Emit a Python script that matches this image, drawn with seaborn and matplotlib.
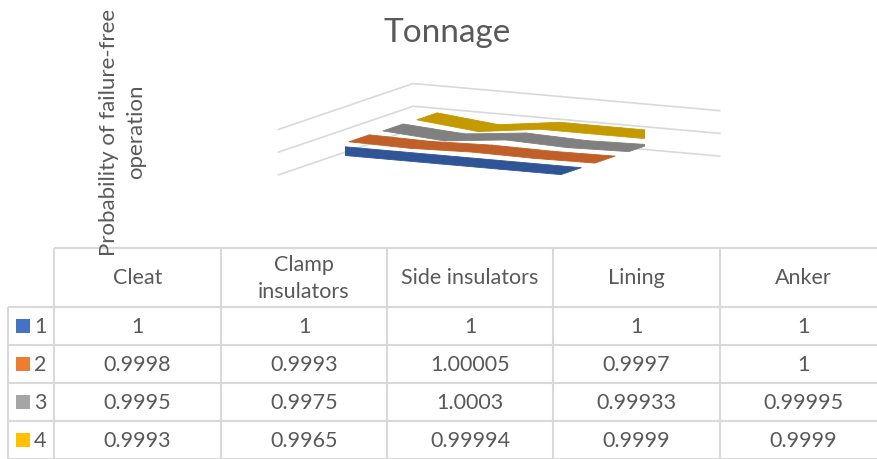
import numpy as np
import pandas as pd
import seaborn as sns
import matplotlib.pyplot as plt
from mpl_toolkits.mplot3d.art3d import Poly3DCollection

categories = ['Cleat', 'Clamp\ninsulators', 'Side insulators', 'Lining', 'Anker']
series_names = ['1', '2', '3', '4']
series_1 = [1, 1, 1, 1, 1]
series_2 = [0.9998, 0.9993, 1.00005, 0.9997, 1]
series_3 = [0.9995, 0.9975, 1.0003, 0.99933, 0.99995]
series_4 = [0.9993, 0.9965, 0.99994, 0.9999, 0.9999]

key_colors = ['#4472C4', '#ED7D31', '#A5A5A5', '#FFC000']
ribbon_colors = ['#2F5597', '#C05F27', '#808080', '#C49A00']
text_color = '#595959'
line_color = '#D9D9D9'

sns.set_theme(style='white')
plt.rcParams['font.family'] = ['Lato', 'DejaVu Sans']

df = pd.DataFrame({
    'category': categories * 4,
    'pos': list(range(len(categories))) * 4,
    'series': np.repeat(series_names, len(categories)),
    'value': series_1 + series_2 + series_3 + series_4,
})

W, H = 878, 460
fig = plt.figure(figsize=(W / 100, H / 100), dpi=100)

# %% 3D ribbon lines
ax = fig.add_axes([345 / W, 1 - 298 / H, 300 / W, 300 / H], projection='3d')
ax.set_facecolor('none')
ax.set_proj_type('ortho')
half = 0.3
for s, (name, grp) in enumerate(df.groupby('series', sort=False)):
    x = grp['pos'].to_numpy()
    z = grp['value'].to_numpy()
    quads = []
    for i in range(len(x) - 1):
        quads.append([(x[i], s - half, z[i]), (x[i + 1], s - half, z[i + 1]),
                      (x[i + 1], s + half, z[i + 1]), (x[i], s + half, z[i])])
    ax.add_collection3d(Poly3DCollection(quads, facecolor=ribbon_colors[s],
                                         edgecolor=ribbon_colors[s], linewidth=0.6))

ax.set_xlim(-0.5, len(categories) - 0.5)
ax.set_ylim(-0.5, len(series_names) - 0.5)
ax.set_zlim(0.99, 1.01)
ax.set_xticks([])
ax.set_yticks([])
ax.set_zticks([0.99, 1.0, 1.01])
ax.set_zticklabels([])
ax.view_init(elev=10, azim=-63)
ax.set_box_aspect((3.66, 3.17, 0.49), zoom=1.484)
for axis in (ax.xaxis, ax.yaxis, ax.zaxis):
    axis.set_pane_color((1, 1, 1, 0))
    axis.pane.set_edgecolor((1, 1, 1, 0))
    axis.line.set_color((1, 1, 1, 0))
    axis._axinfo['grid']['color'] = line_color
    axis._axinfo['grid']['linewidth'] = 1.2
    axis._axinfo['tick']['inward_factor'] = 0
    axis._axinfo['tick']['outward_factor'] = 0

fig.text(447 / W, 1 - 33 / H, 'Tonnage', ha='center', va='center',
         fontsize=24, color=text_color)
fig.text(123 / W, 1 - 132 / H, 'Probability of failure-free\noperation',
         rotation=90, ha='center', va='center', fontsize=16,
         color=text_color, linespacing=1.45)

# %% data table
tab = fig.add_axes([0, 0, 1, 1], zorder=-1)
tab.set_xlim(0, W)
tab.set_ylim(H, 0)
tab.axis('off')
col_edges = [8, 54, 221, 387, 553, 720, 887]
row_edges = [249, 308, 346, 384, 422, 460]

tab.hlines(row_edges[0], col_edges[1], col_edges[-1], color=line_color, lw=1.5)
tab.hlines(row_edges[1:], col_edges[0], col_edges[-1], color=line_color, lw=1.5)
tab.vlines(col_edges[0], row_edges[1], row_edges[-1], color=line_color, lw=1.5)
tab.vlines(col_edges[1:], row_edges[0], row_edges[-1], color=line_color, lw=1.5)

for j, cat in enumerate(categories):
    cx = (col_edges[j + 1] + col_edges[j + 2]) / 2
    cy = (row_edges[0] + row_edges[1]) / 2
    tab.text(cx, cy, cat, ha='center', va='center', fontsize=15.5,
             color=text_color, linespacing=1.4)

all_series = [series_1, series_2, series_3, series_4]
for i, vals in enumerate(all_series):
    cy = (row_edges[i + 1] + row_edges[i + 2]) / 2
    tab.scatter([23], [cy], marker='s', s=90, color=key_colors[i], linewidths=0)
    tab.text(34, cy, series_names[i], ha='left', va='center', fontsize=15.5,
             color=text_color)
    for j, v in enumerate(vals):
        cx = (col_edges[j + 1] + col_edges[j + 2]) / 2
        tab.text(cx, cy, format(v, 'g'), ha='center', va='center',
                 fontsize=15.5, color=text_color)

fig.savefig('out.png', dpi=100)
